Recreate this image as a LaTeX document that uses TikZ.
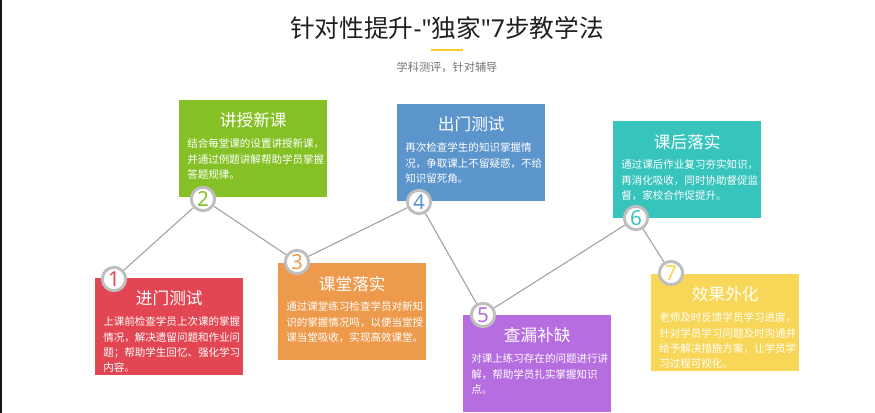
\documentclass[tikz,border=0pt]{standalone}
\usepackage{fontspec}
\setmainfont{Noto Sans CJK SC}
\newfontfamily\latinfont{Noto Sans}
\usetikzlibrary{positioning}
\definecolor{cRed}{HTML}{E24652}
\definecolor{cGreen}{HTML}{85C126}
\definecolor{cOrange}{HTML}{EE9A4D}
\definecolor{cBlue}{HTML}{5C94CC}
\definecolor{cPurple}{HTML}{B66DE0}
\definecolor{cTeal}{HTML}{37C4BD}
\definecolor{cYellow}{HTML}{F8D658}
\definecolor{ringgray}{HTML}{BEBEBE}
\definecolor{linegray}{HTML}{A0A0A0}
\definecolor{barYellow}{HTML}{F9C930}

\begin{document}
\begin{tikzpicture}[x=0.75pt,y=-0.75pt,
		card/.style={rectangle,anchor=north west,minimum width=111pt,minimum height=72.75pt,inner sep=0pt,fill=#1},
		num/.style={circle,draw=ringgray,line width=2.2pt,fill=white,minimum size=17.5pt,inner sep=0pt,text=#1,font=\latinfont\fontsize{15.5}{15.5}\selectfont},
		ttl/.style={text=white,inner sep=0pt,font=\fontsize{12.5}{14}\selectfont},
		txt/.style={text=white,inner sep=0pt,anchor=north west,align=left,font=\fontsize{7.9}{11.5}\selectfont},
		link/.style={draw=linegray,line width=0.8pt}]
		\useasboundingbox (0,0) rectangle (875,413);
		\fill[black!92] (0,0) rectangle (2,413);

		\node[font=\fontsize{18.5}{20}\selectfont,text=black!88] (head) at (447,28) {针对性提升{\latinfont -"}独家{\latinfont "7}步教学法};
		\fill[barYellow] (431,49) rectangle (463,51.5);
		\node[font=\fontsize{8.4}{10}\selectfont,text=black!55] (sub) at (447,67) {学科测评，针对辅导};

		\node[card=cRed] (b1) at (95,278) {};
		\node[card=cGreen] (b2) at (179,100) {};
		\node[card=cOrange] (b3) at (278,263) {};
		\node[card=cBlue] (b4) at (397,104) {};
		\node[card=cPurple] (b5) at (463,315) {};
		\node[card=cTeal] (b6) at (613,121) {};
		\node[card=cYellow] (b7) at (651,274) {};

		\node[ttl,below=9.5pt of b1.north] (t1) {进门测试};
		\node[ttl,below=9.5pt of b2.north] (t2) {讲授新课};
		\node[ttl,below=9.5pt of b3.north] (t3) {课堂落实};
		\node[ttl,below=9.5pt of b4.north] (t4) {出门测试};
		\node[ttl,below=9.5pt of b5.north] (t5) {查漏补缺};
		\node[ttl,below=9.5pt of b6.north] (t6) {课后落实};
		\node[ttl,below=9.5pt of b7.north] (t7) {效果外化};

		\node[txt] (d1) at ([shift={(6pt,-29pt)}]b1.north west) {上课前检查学员上次课的掌握\\情况，解决遗留问题和作业问\\题；帮助学生回忆、强化学习\\内容。};
		\node[txt] (d2) at ([shift={(6pt,-29pt)}]b2.north west) {结合每堂课的设置讲授新课，\\并通过例题讲解帮助学员掌握\\答题规律。};
		\node[txt] (d3) at ([shift={(6pt,-29pt)}]b3.north west) {通过课堂练习检查学员对新知\\识的掌握情况吗，以便当堂授\\课当堂吸收，实现高效课堂。};
		\node[txt] (d4) at ([shift={(6pt,-29pt)}]b4.north west) {再次检查学生的知识掌握情\\况，争取课上不留疑惑，不给\\知识留死角。};
		\node[txt] (d5) at ([shift={(6pt,-29pt)}]b5.north west) {对课上练习存在的问题进行讲\\解，帮助学员扎实掌握知识\\点。};
		\node[txt] (d6) at ([shift={(6pt,-29pt)}]b6.north west) {通过课后作业复习夯实知识，\\再消化吸收，同时协助督促监\\督，家校合作促提升。};
		\node[txt] (d7) at ([shift={(6pt,-29pt)}]b7.north west) {老师及时反馈学员学习进度，\\针对学员学习问题及时沟通并\\给予解决措施方案，让学员学\\习过程可视化。};

		\node[num=cRed] (n1) at (114,279) {1};
		\node[num=cGreen] (n2) at (203,199) {2};
		\node[num=cOrange] (n3) at (297,262) {3};
		\node[num=cBlue] (n4) at (419,202) {4};
		\node[num=cPurple] (n5) at (483,315) {5};
		\node[num=cTeal] (n6) at (636,218) {6};
		\node[num=cYellow] (n7) at (671,273) {7};

		\draw[link] (n1) -- (n2);
		\draw[link] (n2) -- (n3);
		\draw[link] (n3) -- (n4);
		\draw[link] (n4) -- (n5);
		\draw[link] (n5) -- (n6);
		\draw[link] (n6) -- (n7);
\end{tikzpicture}
\end{document}
